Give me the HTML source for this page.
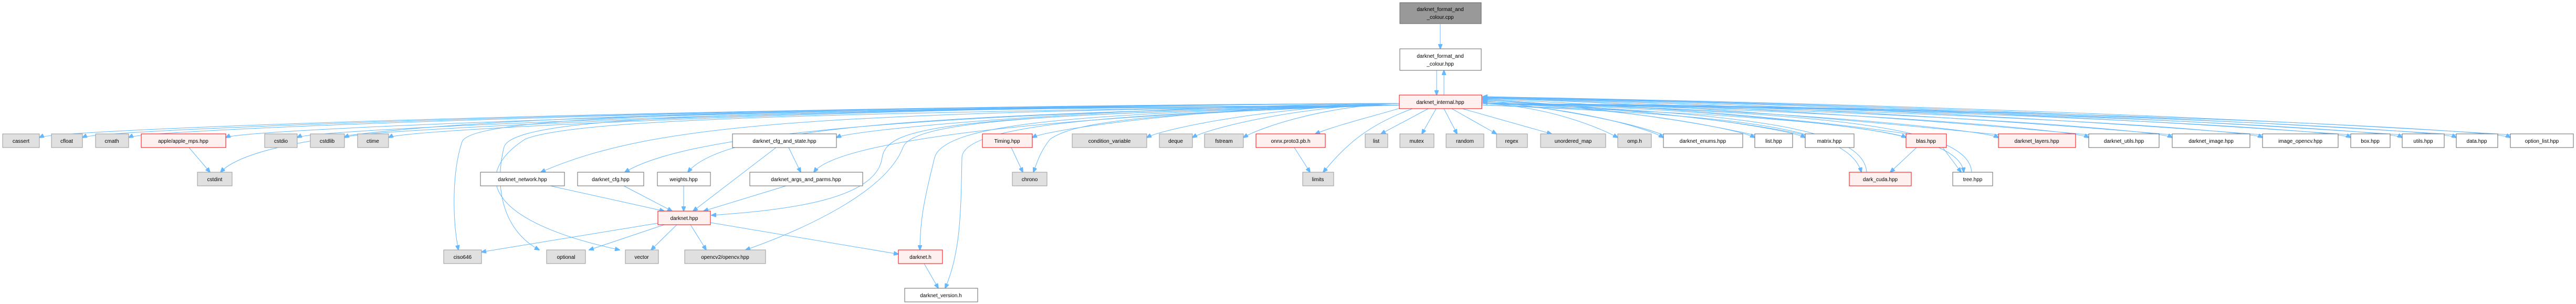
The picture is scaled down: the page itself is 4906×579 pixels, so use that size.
<!DOCTYPE html>
<html><head><meta charset="utf-8"><style>
html,body{margin:0;padding:0;background:#fff;}
svg{display:block;}
text{font-family:"Liberation Sans",sans-serif;font-size:10px;fill:#000;text-anchor:middle;}
.g{fill:#e0e0e0;stroke:#999;}
.w{fill:#fff;stroke:#666;}
.r{fill:#fff0f0;stroke:#f00;}
.t{fill:#999;stroke:#666;}
path{fill:none;stroke:#63b8ff;stroke-width:1;marker-end:url(#a);}
</style></head><body>
<svg width="4906" height="579" viewBox="0 0 4906 579" xmlns="http://www.w3.org/2000/svg">
<defs><marker id="a" markerWidth="10" markerHeight="8" refX="9" refY="4" orient="auto" markerUnits="userSpaceOnUse"><path d="M0,0 L10,4 L0,8 z" style="fill:#63b8ff;stroke:#63b8ff;marker-end:none"/></marker></defs>
<g>
<!-- edges from internal, left -->
<path d="M2665,197 C1370,202 110,245 75,262"/>
<path d="M2665,197 C1411,202 192,245 157,262"/>
<path d="M2665,197 C1455,202 280,245 245,262"/>
<path d="M2665,197 C1547,202 465,245 430,262"/>
<path d="M2665,197 C1615,202 600,245 566,262"/>
<path d="M2665,197 C1660,202 690,245 656,262"/>
<path d="M2665,197 C1702,202 775,245 740,262"/>
<path d="M2665,197 C2129,202 1630,245 1593,262"/>
<path d="M2665,197 C2315,202 2000,245 1966,262"/>
<path d="M2665,197 C2424,202 2215,245 2184,262"/>
<path d="M2665,197 C2468,202 2300,245 2271,262"/>
<path d="M2665,197 C2516,202 2395,245 2368,262"/>
<path d="M2670,205 C2620,220 2540,240 2505,255"/>
<path d="M2720,207 L2630,255"/>
<path d="M2735,207 L2708,255"/>
<path d="M2750,207 L2775,255"/>
<path d="M2765,207 L2850,255"/>
<path d="M2785,207 L2955,255"/>
<!-- right -->
<path d="M2822,197 C2951,202 3050,245 3081,262"/>
<path d="M2822,197 C2995,202 3140,245 3168,262"/>
<path d="M2822,197 C3082,202 3310,245 3342,262"/>
<path d="M2822,197 C3130,202 3405,245 3438,262"/>
<path d="M2822,197 C3226,202 3595,245 3630,262"/>
<path d="M2822,197 C3314,202 3770,245 3806,262"/>
<path d="M2822,197 C3400,202 3945,245 3978,262"/>
<path d="M2822,197 C3480,202 4105,245 4137,262"/>
<path d="M2822,197 C3565,202 4275,245 4309,262"/>
<path d="M2822,197 C3650,202 4445,245 4477,262"/>
<path d="M2822,197 C3700,202 4545,245 4575,262"/>
<path d="M2822,197 C3750,202 4645,245 4678,262"/>
<path d="M2822,197 C3800,202 4750,245 4781,262"/>
<!-- back edges -->
<path d="M3170,258 C3100,230 2950,205 2824,191"/>
<path d="M3345,258 C3200,225 3000,200 2824,190"/>
<path d="M3440,258 C3300,225 3000,200 2824,189"/>
<path d="M3640,256 C3400,220 3050,198 2824,188"/>
<path d="M3810,257 C3400,215 3100,195 2824,187"/>
<path d="M3982,257 C3500,212 3100,194 2824,187"/>
<path d="M4140,257 C3600,210 3100,193 2824,186"/>
<path d="M4312,257 C3700,208 3100,192 2824,186"/>
<path d="M4480,257 C3800,207 3100,191 2824,185"/>
<path d="M4578,257 C3850,206 3100,190 2824,185"/>
<path d="M4682,257 C3900,205 3100,190 2824,184"/>
<path d="M4785,257 C3950,204 3100,189 2824,184"/>
<!-- lower from internal -->
<path d="M2665,200 C1300,210 520,220 420,328"/>
<path d="M2665,200 C1500,210 900,215 880,270 C860,330 862,420 873,476"/>
<path d="M2665,200 C1500,212 980,215 960,280 C940,360 960,440 1027,476"/>
<path d="M2665,200 C1600,215 1100,225 1000,265 C900,330 920,420 1180,476"/>
<path d="M2665,200 C1600,215 1250,230 1030,328"/>
<path d="M2665,200 C1700,215 1300,260 1190,328"/>
<path d="M2665,200 C1800,215 1380,240 1310,328"/>
<path d="M2665,200 C2100,215 1600,260 1550,328"/>
<path d="M2665,200 C1800,220 1690,240 1680,300 C1670,380 1500,400 1355,410"/>
<path d="M2665,200 C2000,215 1740,230 1720,280 C1690,360 1550,430 1420,476"/>
<path d="M2665,200 C2100,215 1800,230 1780,300 C1760,380 1752,420 1752,476"/>
<path d="M2665,200 C2200,215 1835,230 1832,300 C1830,400 1830,480 1800,549"/>
<path d="M2665,200 C2200,215 2050,230 2000,265 C1980,290 1975,310 1968,328"/>
<path d="M2690,207 C2600,240 2560,280 2520,328"/>
<path d="M2822,200 C3300,220 3520,240 3545,328"/>
<path d="M3555,328 C3550,240 3300,215 2824,195"/>
<path d="M2822,200 C3400,220 3730,240 3740,328"/>
<path d="M3755,328 C3750,230 3400,215 2824,193"/>
<!-- other -->
<path d="M2743,46 L2743,93"/>
<path d="M2736,134 L2736,181"/>
<path d="M2750,181 L2750,134"/>
<path d="M360,281 L400,328"/>
<path d="M1478,281 L1320,402"/>
<path d="M1502,281 L1525,328"/>
<path d="M1497,354 L1340,402"/>
<path d="M1302,354 L1302,402"/>
<path d="M1048,354 L1265,402"/>
<path d="M1188,354 L1280,402"/>
<path d="M1253,425 L917,480"/>
<path d="M1265,428 L1122,476"/>
<path d="M1289,428 L1240,476"/>
<path d="M1315,428 L1345,476"/>
<path d="M1353,424 L1711,484"/>
<path d="M1760,502 L1787,549"/>
<path d="M1926,281 L1948,328"/>
<path d="M2465,281 L2495,328"/>
<path d="M3650,281 L3600,328"/>
<path d="M3700,281 L3735,328"/>
</g>
<g>
<rect class="t" x="2666" y="5" width="155" height="40"/><text x="2743" y="21">darknet_format_and</text><text x="2743" y="36">_colour.cpp</text>
<rect class="w" x="2666" y="93" width="155" height="41"/><text x="2743" y="110">darknet_format_and</text><text x="2743" y="125">_colour.hpp</text>
<rect class="r" x="2665" y="181" width="157" height="26"/><text x="2743" y="198">darknet_internal.hpp</text>

<rect class="g" x="5" y="255" width="70" height="26"/><text x="40" y="272">cassert</text>
<rect class="g" x="98" y="255" width="59" height="26"/><text x="127" y="272">cfloat</text>
<rect class="g" x="182" y="255" width="63" height="26"/><text x="213" y="272">cmath</text>
<rect class="r" x="269" y="255" width="161" height="26"/><text x="349" y="272">apple/apple_mps.hpp</text>
<rect class="g" x="504" y="255" width="62" height="26"/><text x="535" y="272">cstdio</text>
<rect class="g" x="591" y="255" width="65" height="26"/><text x="623" y="272">cstdlib</text>
<rect class="g" x="681" y="255" width="59" height="26"/><text x="710" y="272">ctime</text>
<rect class="w" x="1395" y="255" width="198" height="26"/><text x="1494" y="272">darknet_cfg_and_state.hpp</text>
<rect class="r" x="1871" y="255" width="95" height="26"/><text x="1918" y="272">Timing.hpp</text>
<rect class="g" x="2042" y="255" width="142" height="26"/><text x="2113" y="272">condition_variable</text>
<rect class="g" x="2208" y="255" width="63" height="26"/><text x="2239" y="272">deque</text>
<rect class="g" x="2294" y="255" width="74" height="26"/><text x="2331" y="272">fstream</text>
<rect class="r" x="2392" y="255" width="132" height="26"/><text x="2458" y="272">onnx.proto3.pb.h</text>
<rect class="g" x="2600" y="255" width="43" height="26"/><text x="2621" y="272">list</text>
<rect class="g" x="2666" y="255" width="65" height="26"/><text x="2698" y="272">mutex</text>
<rect class="g" x="2754" y="255" width="72" height="26"/><text x="2790" y="272">random</text>
<rect class="g" x="2850" y="255" width="59" height="26"/><text x="2879" y="272">regex</text>
<rect class="g" x="2934" y="255" width="124" height="26"/><text x="2996" y="272">unordered_map</text>
<rect class="g" x="3081" y="255" width="64" height="26"/><text x="3113" y="272">omp.h</text>
<rect class="w" x="3168" y="255" width="151" height="26"/><text x="3243" y="272">darknet_enums.hpp</text>
<rect class="w" x="3342" y="255" width="72" height="26"/><text x="3378" y="272">list.hpp</text>
<rect class="w" x="3438" y="255" width="93" height="26"/><text x="3484" y="272">matrix.hpp</text>
<rect class="r" x="3630" y="255" width="77" height="26"/><text x="3668" y="272">blas.hpp</text>
<rect class="r" x="3806" y="255" width="147" height="26"/><text x="3879" y="272">darknet_layers.hpp</text>
<rect class="w" x="3978" y="255" width="134" height="26"/><text x="4045" y="272">darknet_utils.hpp</text>
<rect class="w" x="4137" y="255" width="148" height="26"/><text x="4211" y="272">darknet_image.hpp</text>
<rect class="w" x="4309" y="255" width="144" height="26"/><text x="4381" y="272">image_opencv.hpp</text>
<rect class="w" x="4477" y="255" width="75" height="26"/><text x="4514" y="272">box.hpp</text>
<rect class="w" x="4575" y="255" width="80" height="26"/><text x="4615" y="272">utils.hpp</text>
<rect class="w" x="4678" y="255" width="79" height="26"/><text x="4717" y="272">data.hpp</text>
<rect class="w" x="4781" y="255" width="120" height="26"/><text x="4841" y="272">option_list.hpp</text>

<rect class="g" x="376" y="328" width="66" height="26"/><text x="409" y="345">cstdint</text>
<rect class="w" x="915" y="328" width="160" height="26"/><text x="995" y="345">darknet_network.hpp</text>
<rect class="w" x="1100" y="328" width="126" height="26"/><text x="1163" y="345">darknet_cfg.hpp</text>
<rect class="w" x="1252" y="328" width="101" height="26"/><text x="1302" y="345">weights.hpp</text>
<rect class="w" x="1428" y="328" width="215" height="26"/><text x="1535" y="345">darknet_args_and_parms.hpp</text>
<rect class="g" x="1928" y="328" width="66" height="26"/><text x="1961" y="345">chrono</text>
<rect class="g" x="2481" y="328" width="59" height="26"/><text x="2510" y="345">limits</text>
<rect class="r" x="3522" y="328" width="118" height="26"/><text x="3581" y="345">dark_cuda.hpp</text>
<rect class="w" x="3719" y="328" width="76" height="26"/><text x="3757" y="345">tree.hpp</text>

<rect class="r" x="1253" y="402" width="100" height="26"/><text x="1303" y="419">darknet.hpp</text>

<rect class="g" x="845" y="476" width="72" height="26"/><text x="881" y="493">ciso646</text>
<rect class="g" x="1041" y="476" width="74" height="26"/><text x="1078" y="493">optional</text>
<rect class="g" x="1191" y="476" width="63" height="26"/><text x="1222" y="493">vector</text>
<rect class="g" x="1304" y="476" width="154" height="26"/><text x="1381" y="493">opencv2/opencv.hpp</text>
<rect class="r" x="1711" y="476" width="84" height="26"/><text x="1753" y="493">darknet.h</text>

<rect class="w" x="1723" y="549" width="139" height="26"/><text x="1792" y="566">darknet_version.h</text>
</g>
</svg>
</body></html>
